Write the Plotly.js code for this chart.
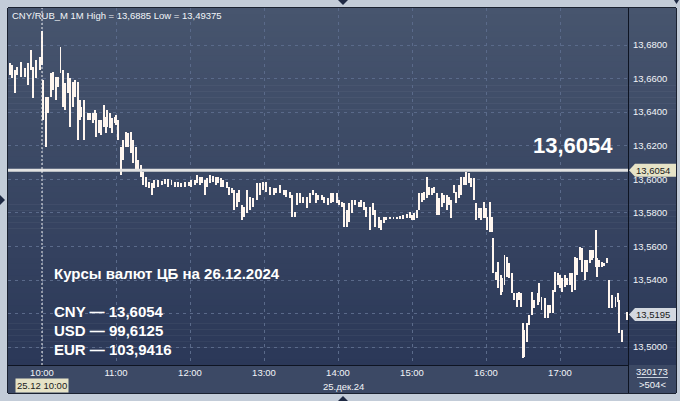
<!DOCTYPE html>
<html><head><meta charset="utf-8">
<script src="https://cdn.plot.ly/plotly-3.0.1.min.js"></script>
<style>html,body{margin:0;padding:0;background:#c3ccd8;}#chart{width:680px;height:401px;}</style>
</head><body><div id="chart"></div>
<script>
// ---------------- data ----------------
const day = '2024-12-25';
const times = ['09:34','09:36','09:38','09:40','09:43','09:46','09:49','09:51','09:53','09:55','09:58',
'10:00','10:01','10:03','10:05','10:07','10:09','10:11','10:13','10:15','10:17','10:19','10:21','10:23','10:25','10:27','10:29','10:31','10:32','10:34','10:37','10:39','10:41','10:43','10:44','10:46','10:48','10:50','10:52','10:53','10:55','10:57','10:59',
'11:00','11:02','11:04','11:06','11:08','11:10','11:12','11:14','11:16','11:18','11:20','11:22','11:24','11:27','11:29','11:31','11:34','11:37','11:40','11:42','11:45','11:48','11:50','11:53','11:56','11:59',
'12:01','12:04','12:06','12:08','12:10','12:12','12:14','12:16','12:19','12:21','12:23','12:25','12:27','12:30','12:32','12:34','12:36','12:38','12:40','12:42','12:44','12:46','12:49','12:51','12:54','12:57','12:59',
'13:02','13:05','13:08','13:10','13:13','13:16','13:18','13:21','13:23','13:25','13:27','13:29','13:32','13:35','13:37','13:40','13:42','13:44','13:47','13:49','13:52','13:54','13:56','13:59',
'14:01','14:03','14:05','14:07','14:09','14:11','14:14','14:17','14:19','14:21','14:23','14:26','14:28','14:30','14:33','14:35','14:37','14:39','14:42','14:45','14:48','14:50','14:53','14:56','14:58',
'15:00','15:02','15:04','15:06','15:08','15:10','15:12','15:14','15:16','15:18','15:20','15:22','15:24','15:26','15:28','15:30','15:32','15:34','15:36','15:38','15:40','15:42','15:44','15:46','15:48','15:50','15:52','15:54','15:56','15:58',
'16:00','16:01','16:03','16:05','16:06','16:08','16:10','16:12','16:13','16:15','16:17','16:19','16:21','16:23','16:25','16:27','16:28','16:30','16:31','16:33','16:35','16:37','16:39','16:42','16:43','16:45','16:48','16:50','16:52','16:54','16:56','16:58',
'17:00','17:02','17:04','17:06','17:08','17:10','17:12','17:14','17:16','17:18','17:20','17:22','17:24','17:26','17:27','17:29','17:30','17:32','17:34','17:36','17:38','17:40','17:42','17:45','17:47','17:48','17:50','17:54'];
const highs = [13.6693,13.6681,13.6651,13.6669,13.6699,13.6663,13.6693,13.6770,13.6669,13.6711,13.6728,
13.6883,13.6591,13.6490,13.6490,13.6633,13.6639,13.6609,13.6609,13.6788,13.6651,13.6574,13.6633,13.6603,13.6580,13.6591,13.6580,13.6472,13.6431,13.6472,13.6395,13.6395,13.6395,13.6413,13.6395,13.6353,13.6353,13.6443,13.6371,13.6413,13.6395,13.6365,13.6371,
13.6383,13.6353,13.6192,13.6234,13.6282,13.6276,13.6282,13.6234,13.6192,13.6115,13.6085,13.6043,13.6014,13.5984,13.5978,13.5996,13.5996,13.5990,13.6002,13.6002,13.5996,13.5984,13.5984,13.5978,13.5984,13.5984,
13.5996,13.5996,13.6026,13.6014,13.6014,13.5996,13.6008,13.6026,13.6020,13.6014,13.6014,13.6008,13.5996,13.5984,13.5954,13.5948,13.5936,13.5918,13.5936,13.5847,13.5835,13.5936,13.5895,13.5889,13.5978,13.5978,13.5984,
13.5984,13.5954,13.5948,13.5948,13.5966,13.5936,13.5936,13.5924,13.5906,13.5805,13.5918,13.5918,13.5895,13.5895,13.5918,13.5936,13.5918,13.5906,13.5906,13.5895,13.5889,13.5918,13.5918,13.5918,
13.5877,13.5865,13.5859,13.5817,13.5859,13.5877,13.5877,13.5865,13.5877,13.5865,13.5835,13.5835,13.5859,13.5817,13.5776,13.5758,13.5776,13.5776,13.5776,13.5776,13.5776,13.5781,13.5787,13.5793,13.5805,
13.5787,13.5799,13.5817,13.5918,13.5918,13.5924,13.6014,13.5954,13.5948,13.5954,13.5918,13.5889,13.5918,13.5906,13.5906,13.5895,13.5877,13.5966,13.5924,13.5966,13.6014,13.6014,13.6043,13.6037,13.6008,13.6008,13.5859,13.5829,13.5829,13.5865,
13.5829,13.5776,13.5865,13.5776,13.5650,13.5448,13.5507,13.5430,13.5412,13.5549,13.5537,13.5501,13.5442,13.5323,13.5323,13.5329,13.5323,13.5144,13.5102,13.5144,13.5192,13.5329,13.5281,13.5323,13.5382,13.5299,13.5293,13.5251,13.5251,13.5341,13.5448,13.5442,
13.5430,13.5412,13.5430,13.5412,13.5442,13.5442,13.5537,13.5531,13.5597,13.5591,13.5519,13.5519,13.5579,13.5579,13.5579,13.5698,13.5531,13.5519,13.5507,13.5501,13.5531,13.5400,13.5311,13.5299,13.5323,13.5281,13.5102,13.5209];
const lows = [13.6621,13.6603,13.6514,13.6621,13.6609,13.6609,13.6562,13.6651,13.6484,13.6603,13.6651,
13.6681,13.6353,13.6192,13.6395,13.6490,13.6532,13.6472,13.6550,13.6633,13.6431,13.6413,13.6514,13.6312,13.6431,13.6490,13.6234,13.6353,13.6371,13.6234,13.6353,13.6353,13.6335,13.6353,13.6252,13.6276,13.6264,13.6312,13.6276,13.6312,13.6306,13.6276,13.6335,
13.6323,13.6234,13.6026,13.6115,13.6192,13.6192,13.6157,13.6097,13.6055,13.6055,13.6014,13.5966,13.5954,13.5948,13.5906,13.5948,13.5954,13.5966,13.5972,13.5954,13.5966,13.5954,13.5954,13.5954,13.5954,13.5960,
13.5954,13.5966,13.5978,13.5966,13.5978,13.5906,13.5954,13.5978,13.5984,13.5966,13.5978,13.5954,13.5954,13.5948,13.5906,13.5918,13.5817,13.5835,13.5865,13.5758,13.5776,13.5799,13.5817,13.5835,13.5877,13.5906,13.5936,
13.5924,13.5906,13.5906,13.5918,13.5918,13.5906,13.5895,13.5889,13.5776,13.5776,13.5847,13.5859,13.5859,13.5829,13.5859,13.5906,13.5859,13.5877,13.5877,13.5859,13.5847,13.5859,13.5865,13.5859,
13.5847,13.5835,13.5716,13.5716,13.5746,13.5799,13.5847,13.5835,13.5835,13.5817,13.5776,13.5698,13.5787,13.5716,13.5710,13.5698,13.5740,13.5758,13.5763,13.5763,13.5763,13.5763,13.5763,13.5770,13.5770,
13.5758,13.5758,13.5770,13.5817,13.5865,13.5877,13.5889,13.5906,13.5906,13.5918,13.5787,13.5787,13.5835,13.5859,13.5817,13.5847,13.5770,13.5918,13.5859,13.5889,13.5906,13.5966,13.5966,13.5978,13.5954,13.5877,13.5758,13.5770,13.5758,13.5770,
13.5770,13.5698,13.5686,13.5686,13.5442,13.5400,13.5352,13.5311,13.5329,13.5370,13.5418,13.5412,13.5323,13.5281,13.5239,13.5281,13.5239,13.4935,13.4941,13.5031,13.5132,13.5192,13.5233,13.5251,13.5269,13.5221,13.5174,13.5174,13.5204,13.5204,13.5329,13.5370,
13.5352,13.5329,13.5358,13.5370,13.5370,13.5329,13.5341,13.5430,13.5519,13.5448,13.5400,13.5448,13.5501,13.5519,13.5531,13.5478,13.5418,13.5478,13.5478,13.5483,13.5501,13.5233,13.5233,13.5239,13.5269,13.5084,13.5031,13.5162];
const cbRate = 13.6054;      // horizontal level (CB rate)
const lastPrice = 13.5195;   // last price tag
const yTickVals = [13.50, 13.52, 13.54, 13.56, 13.58, 13.60, 13.62, 13.64, 13.66, 13.68];
const yTickText = ['13,5000', '', '13,5400', '13,5600', '13,5800', '13,6000', '13,6200', '13,6400', '13,6600', '13,6800'];
const hourLabels = ['10:00','11:00','12:00','13:00','14:00','15:00','16:00','17:00'];
const cursorTime = '10:00';
const titleText = 'CNY/RUB_M 1M High = 13,6885 Low = 13,49375';
const infoLines = ['Курсы валют ЦБ на 26.12.2024','CNY — 13,6054','USD — 99,6125','EUR — 103,9416'];
const dateLabel = '25.дек.24';
const cursorLabel = '25.12 10:00';
const cornerTop = '320173', cornerBottom = '>504<';

// ---------------- layout helpers ----------------
const W = 680, H = 401, L = 8, R = 628, T = 8, B = 365;
const yMin = 13.48938, yMax = 13.70204;
const xRange = [day + ' 09:32:26', day + ' 17:55:08'];
const px = x => (x - L) / (R - L);
const py = y => (B - y) / (B - T);
const yPix = v => T + (yMax - v) / (yMax - yMin) * (B - T);
const FONT = 'Liberation Sans, Arial, sans-serif';

const shapes = [];
function rectPx(x0, y0, x1, y1, color, layer) {
  shapes.push({type: 'rect', xref: 'paper', yref: 'paper', x0: px(x0), x1: px(x1), y0: py(y0), y1: py(y1),
    fillcolor: color, line: {width: 0}, layer: layer || 'below'});
}
function mix(a, b, t) { return 'rgb(' + a.map((v, i) => Math.round(v + (b[i] - v) * t)).join(',') + ')'; }
const topC = [71, 85, 110], botC = [43, 56, 88];
const N = 60;
for (let i = 0; i < N; i++) {
  const y0 = T + (B - T) * i / N, y1 = T + (B - T) * (i + 1) / N + 0.5;
  const c = mix(topC, botC, (i + 0.5) / N);
  rectPx(L, y0, R, y1, c);
  rectPx(R, y0, 676, y1, c);
}
rectPx(L, B, 676, 393, 'rgb(60,73,101)');
function linePx(x0, y0, x1, y1, color, w, layer, dash) {
  shapes.push({type: 'line', xref: 'paper', yref: 'paper', x0: px(x0), x1: px(x1), y0: py(y0), y1: py(y1),
    line: {color: color, width: w, dash: dash || 'solid'}, layer: layer || 'above'});
}
linePx(R + 0.5, T, R + 0.5, 393, '#0e1422', 1);
linePx(L, B + 0.5, R, B + 0.5, '#0e1422', 1);
linePx(L - 0.5, T, L - 0.5, 393, '#1a2130', 1);
linePx(L, T - 0.5, 676, T - 0.5, '#1a2130', 1);
linePx(676.5, T, 676.5, 393, '#1a2130', 1);
linePx(L, 393.5, 676, 393.5, '#1a2130', 1);
linePx(637, 377.5, 668, 377.5, '#c8d0dc', 1);

shapes.push({type: 'line', xref: 'paper', yref: 'y', x0: 0, x1: 1, y0: cbRate, y1: cbRate,
  line: {color: '#e2e2e2', width: 3}, layer: 'above'});
shapes.push({type: 'line', xref: 'x', yref: 'paper', x0: day + ' ' + cursorTime, x1: day + ' ' + cursorTime, y0: 0, y1: 1,
  line: {color: '#f0f0f0', width: 1, dash: '2px,2px'}, layer: 'above'});

function tag(v, color) {
  const cy = py(yPix(v)), h = 6.5 / (B - T);
  shapes.push({type: 'path', xref: 'paper', yref: 'paper', layer: 'above', fillcolor: color, line: {width: 0},
    path: `M ${px(629)},${cy} L ${px(635)},${cy + h} L ${px(676)},${cy + h} L ${px(676)},${cy - h} L ${px(635)},${cy - h} Z`});
}
tag(cbRate, '#e6e3c7');
tag(lastPrice, '#d3d8e0');

function tri(pts) {
  shapes.push({type: 'path', xref: 'paper', yref: 'paper', layer: 'above', fillcolor: '#1f2a44', line: {width: 0},
    path: 'M ' + pts.map(p => px(p[0]) + ',' + py(p[1])).join(' L ') + ' Z'});
}
tri([[338, 0], [348, 0], [343, 5]]);
tri([[338, 401], [348, 401], [343, 396]]);
tri([[0, 195], [0, 205], [5, 200]]);
tri([[674, 0], [679, 0], [676.5, 4]]);

const annotations = [
  {xref: 'paper', yref: 'paper', x: px(10), y: py(15), xanchor: 'left', yanchor: 'middle', showarrow: false,
   text: titleText, font: {family: FONT, size: 9.5, color: '#f2f4f8'}},
  {xref: 'paper', yref: 'paper', x: px(615), y: py(146), xanchor: 'right', yanchor: 'middle', showarrow: false,
   text: '13,6054', font: {family: FONT, size: 22, color: '#ffffff', weight: 'bold'}},
  {xref: 'paper', yref: 'paper', x: px(634), y: py(yPix(cbRate)), xanchor: 'left', yanchor: 'middle', showarrow: false,
   text: '13,6054', font: {family: FONT, size: 9.5, color: '#1a1a1a'}},
  {xref: 'paper', yref: 'paper', x: px(634), y: py(yPix(lastPrice)), xanchor: 'left', yanchor: 'middle', showarrow: false,
   text: '13,5195', font: {family: FONT, size: 9.5, color: '#1a1a1a'}},
  {xref: 'x', yref: 'paper', x: day + ' ' + cursorTime, y: py(385), xanchor: 'center', yanchor: 'middle', showarrow: false,
   text: cursorLabel, bgcolor: '#e6e3c7', borderpad: 1, font: {family: FONT, size: 9.5, color: '#1a1a1a'}},
  {xref: 'paper', yref: 'paper', x: px(343), y: py(386), xanchor: 'center', yanchor: 'middle', showarrow: false,
   text: dateLabel, font: {family: FONT, size: 9.5, color: '#f2f4f8'}},
  {xref: 'paper', yref: 'paper', x: px(652), y: py(371), xanchor: 'center', yanchor: 'middle', showarrow: false,
   text: cornerTop, font: {family: FONT, size: 9.5, color: '#f2f4f8'}},
  {xref: 'paper', yref: 'paper', x: px(652), y: py(384), xanchor: 'center', yanchor: 'middle', showarrow: false,
   text: cornerBottom, font: {family: FONT, size: 9.5, color: '#f2f4f8'}}
];
const infoY = [273, 311, 330, 349];
infoLines.forEach((t, i) => annotations.push({xref: 'paper', yref: 'paper', x: px(52), y: py(infoY[i]),
  xanchor: 'left', yanchor: 'middle', showarrow: false, text: t,
  font: {family: FONT, size: 15, color: '#ffffff', weight: 'bold'}}));

const trace = {
  type: 'bar',
  x: times.map(t => day + ' ' + t),
  base: lows,
  y: highs.map((h, i) => h - lows[i]),
  width: 1.6 * 60000,
  marker: {color: '#fff6ef', line: {width: 0}},
  hoverinfo: 'skip'
};

const layout = {
  width: W, height: H,
  margin: {l: L, r: W - R, t: T, b: H - B, pad: 0},
  paper_bgcolor: '#c3ccd8', plot_bgcolor: 'rgba(0,0,0,0)',
  separators: ', ',
  showlegend: false,
  bargap: 0,
  font: {family: FONT, size: 9.5, color: '#f2f4f8'},
  xaxis: {type: 'date', range: xRange, tickmode: 'array',
    tickvals: hourLabels.map(h => day + ' ' + h), ticktext: hourLabels,
    showgrid: true, gridcolor: '#5a6a8a', griddash: '3px,4px', gridwidth: 1,
    zeroline: false, showline: false, ticks: '', fixedrange: true,
    tickfont: {family: FONT, size: 9.5, color: '#f2f4f8'}},
  yaxis: {side: 'right', range: [yMin, yMax], tickmode: 'array', tickvals: yTickVals, ticktext: yTickText,
    showgrid: true, gridcolor: '#5a6a8a', griddash: '3px,4px', gridwidth: 1,
    zeroline: false, showline: false, ticks: '', ticklabelstandoff: 4, fixedrange: true,
    tickfont: {family: FONT, size: 9.5, color: '#f2f4f8'}},
  shapes: shapes,
  annotations: annotations
};
Plotly.newPlot('chart', [trace], layout, {staticPlot: true, displayModeBar: false});
</script></body></html>
